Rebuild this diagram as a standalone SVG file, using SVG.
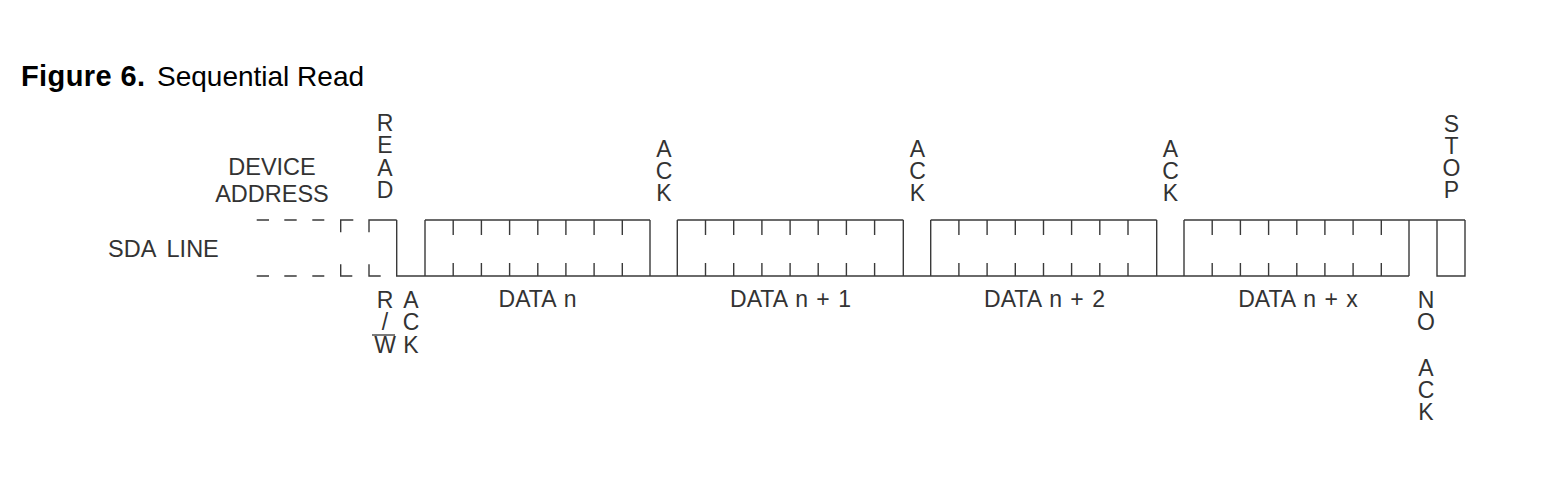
<svg xmlns="http://www.w3.org/2000/svg" width="1555" height="479" viewBox="0 0 1555 479">
<style>
  text { font-family: "Liberation Sans", Arial, Helvetica, sans-serif; fill: #333; }
  .title { font-size: 28px; fill: #000; }
  .lbl { font-size: 23.5px; }
  .v { font-size: 23px; text-anchor: middle; }
  .data { font-size: 23px; text-anchor: middle; word-spacing: 2px; }
  .w { fill: none; stroke: #3a3a3a; stroke-width: 1.4; }
</style>
<rect width="1555" height="479" fill="#fff"/>

<g id="title">
  <text class="title" x="21" y="86"><tspan font-weight="bold" font-size="29" textLength="124">Figure 6.</tspan><tspan x="157">Sequential Read</tspan></text>
</g>

<g id="device-address">
  <text class="lbl" x="272" y="175" text-anchor="middle">DEVICE</text>
  <text class="lbl" x="272" y="202" text-anchor="middle">ADDRESS</text>
</g>

<g id="sda-line">
  <text class="lbl" x="108" y="257" font-size="24" word-spacing="5">SDA LINE</text>
</g>

<g id="connectors">
  <!-- dashed device address region -->
  <path class="w" d="M256.7,220 H269 M284.3,220 H296.7 M312.3,220 H324.3 M256.7,276 H269 M284.3,276 H296.7 M312.3,276 H324.3"/>
  <path class="w" d="M340.7,232.3 V220 H353.3 M340.7,264.3 V276 H352.3"/>
  <path class="w" d="M369,232.3 V220 H396.7 M369,264.3 V276 H380.7"/>
  <!-- main waveform -->
  <path class="w" d="M396.7,220 V276 H1409 M425,220 V276 M650,220 V276 M677.3,220 V276 M903.3,220 V276 M930.7,220 V276 M1156.7,220 V276 M1184,220 V276 M1409,220 V276 M1437,220 V276 H1465 V220 M425,220 H650 M677.3,220 H903.3 M930.7,220 H1156.7 M1184,220 H1465"/>
  <!-- bit ticks -->
  <path class="w" d="M453.2,220 V235 M481.4,220 V235 M509.6,220 V235 M537.8,220 V235 M565.9,220 V235 M594.1,220 V235 M622.3,220 V235
    M453.2,263 V276 M481.4,263 V276 M509.6,263 V276 M537.8,263 V276 M565.9,263 V276 M594.1,263 V276 M622.3,263 V276
    M705.5,220 V235 M733.7,220 V235 M761.9,220 V235 M790.1,220 V235 M818.2,220 V235 M846.4,220 V235 M874.6,220 V235
    M705.5,263 V276 M733.7,263 V276 M761.9,263 V276 M790.1,263 V276 M818.2,263 V276 M846.4,263 V276 M874.6,263 V276
    M958.9,220 V235 M987.1,220 V235 M1015.3,220 V235 M1043.5,220 V235 M1071.6,220 V235 M1099.8,220 V235 M1128,220 V235
    M958.9,263 V276 M987.1,263 V276 M1015.3,263 V276 M1043.5,263 V276 M1071.6,263 V276 M1099.8,263 V276 M1128,263 V276
    M1212.2,220 V235 M1240.4,220 V235 M1268.6,220 V235 M1296.8,220 V235 M1324.9,220 V235 M1353.1,220 V235 M1381.3,220 V235
    M1212.2,263 V276 M1240.4,263 V276 M1268.6,263 V276 M1296.8,263 V276 M1324.9,263 V276 M1353.1,263 V276 M1381.3,263 V276"/>
</g>

<g id="read">
  <text class="v"><tspan x="385" y="131">R</tspan><tspan x="385" y="153">E</tspan><tspan x="385" y="176">A</tspan><tspan x="385" y="198">D</tspan></text>
</g>
<g id="ack1">
  <text class="v"><tspan x="664" y="157">A</tspan><tspan x="664" y="179">C</tspan><tspan x="664" y="201">K</tspan></text>
</g>
<g id="ack2">
  <text class="v"><tspan x="917.5" y="157">A</tspan><tspan x="917.5" y="179">C</tspan><tspan x="917.5" y="201">K</tspan></text>
</g>
<g id="ack3">
  <text class="v"><tspan x="1170.5" y="157">A</tspan><tspan x="1170.5" y="179">C</tspan><tspan x="1170.5" y="201">K</tspan></text>
</g>
<g id="stop">
  <text class="v"><tspan x="1451.5" y="132">S</tspan><tspan x="1451.5" y="154">T</tspan><tspan x="1451.5" y="176">O</tspan><tspan x="1451.5" y="198">P</tspan></text>
</g>
<g id="rw">
  <text class="v"><tspan x="385" y="308">R</tspan><tspan x="385" y="330">/</tspan><tspan x="385" y="353">W</tspan></text>
  <line x1="372" y1="335" x2="395" y2="335" stroke="#333" stroke-width="1.3"/>
</g>
<g id="ack0">
  <text class="v"><tspan x="411" y="308">A</tspan><tspan x="411" y="330">C</tspan><tspan x="411" y="353">K</tspan></text>
</g>
<g id="data-labels">
  <text class="data" x="537.5" y="307">DATA n</text>
  <text class="data" x="790.5" y="307">DATA n + 1</text>
  <text class="data" x="1044.5" y="307">DATA n + 2</text>
  <text class="data" x="1298" y="307">DATA n + x</text>
</g>
<g id="no-ack">
  <text class="v"><tspan x="1426" y="308">N</tspan><tspan x="1426" y="330">O</tspan><tspan x="1426" y="376">A</tspan><tspan x="1426" y="398">C</tspan><tspan x="1426" y="420">K</tspan></text>
</g>
</svg>
